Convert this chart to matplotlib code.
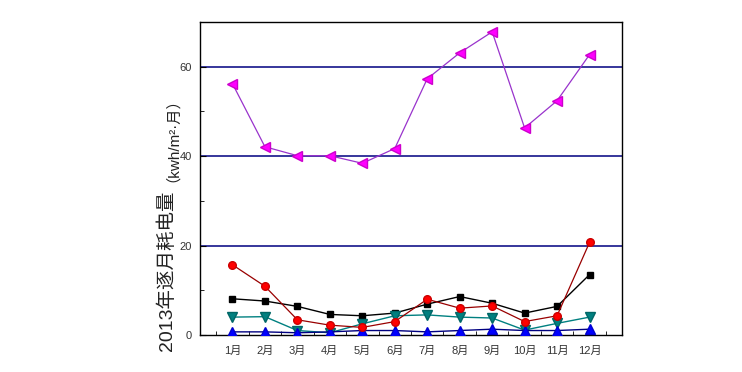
import numpy as np
import matplotlib
matplotlib.use("Agg")
import matplotlib.pyplot as plt

plt.rcParams['font.family'] = ['Liberation Sans', 'Noto Sans CJK SC', 'DejaVu Sans']

months = ['1月', '2月', '3月', '4月', '5月', '6月', '7月', '8月', '9月', '10月', '11月', '12月']
magenta = [56.2, 42.1, 40.1, 40.1, 38.4, 41.7, 57.3, 63.1, 67.8, 46.3, 52.4, 62.7]
red = [15.7, 10.9, 3.4, 2.2, 1.7, 3.0, 8.0, 6.0, 6.5, 3.0, 4.3, 20.7]
black = [8.1, 7.6, 6.4, 4.6, 4.3, 4.9, 6.9, 8.6, 7.1, 4.9, 6.4, 13.5]
teal = [4.0, 4.1, 1.0, 0.5, 2.5, 4.3, 4.5, 4.0, 3.8, 1.1, 2.6, 4.0]
blue = [0.7, 0.7, 0.5, 0.7, 1.0, 1.0, 0.7, 1.0, 1.3, 1.0, 1.0, 1.3]

x = np.arange(1, len(months) + 1)

fig = plt.figure(figsize=(7.42, 3.72), dpi=100)
ax = fig.add_axes([200 / 742, (372 - 335) / 372, 422 / 742, 313 / 372])

for yg in [20, 40, 60]:
    ax.axhline(yg, color='#000080', lw=1.1, zorder=1)

ax.plot(x, magenta, color='#9933cc', lw=0.9, marker='<', ms=7,
        mfc='#ff00ff', mec='#cc00cc', zorder=3)
ax.plot(x, black, color='black', lw=1.0, marker='s', ms=5,
        mfc='black', mec='black', zorder=3)
ax.plot(x, red, color='#990000', lw=0.9, marker='o', ms=5.5,
        mfc='#ff0000', mec='#cc0000', zorder=4)
ax.plot(x, teal, color='#008080', lw=1.0, marker='v', ms=6.5,
        mfc='#008080', mec='#006666', zorder=3)
ax.plot(x, blue, color='#000080', lw=1.0, marker='^', ms=6.5,
        mfc='#0000ff', mec='#0000cc', zorder=3)

ax.set_xlim(0, 13)
ax.set_ylim(0, 70)
ax.set_xticks(x)
ax.set_xticklabels(months, fontsize=8, color='#333333')
ax.set_xticks(np.arange(0.5, 13, 1), minor=True)
ax.set_yticks([0, 20, 40, 60])
ax.set_yticks([10, 30, 50], minor=True)
ax.tick_params(axis='x', which='major', length=0, pad=8)
ax.tick_params(axis='x', which='minor', direction='in', length=3)
ax.tick_params(axis='y', which='major', direction='in', length=4,
               labelsize=8, labelcolor='#333333', pad=6)
ax.tick_params(axis='y', which='minor', direction='in', length=3)
for s in ax.spines.values():
    s.set_linewidth(1.0)

ax.text(-0.078, -0.05, '2013年逐月耗电量', transform=ax.transAxes,
        rotation=90, ha='center', va='bottom', fontsize=14, color='#222222')
ax.text(-0.083, 0.49, '（kwh/m²·月）', transform=ax.transAxes,
        rotation=90, ha='center', va='bottom', fontsize=11, color='#222222')

fig.savefig('out.png', dpi=100)
